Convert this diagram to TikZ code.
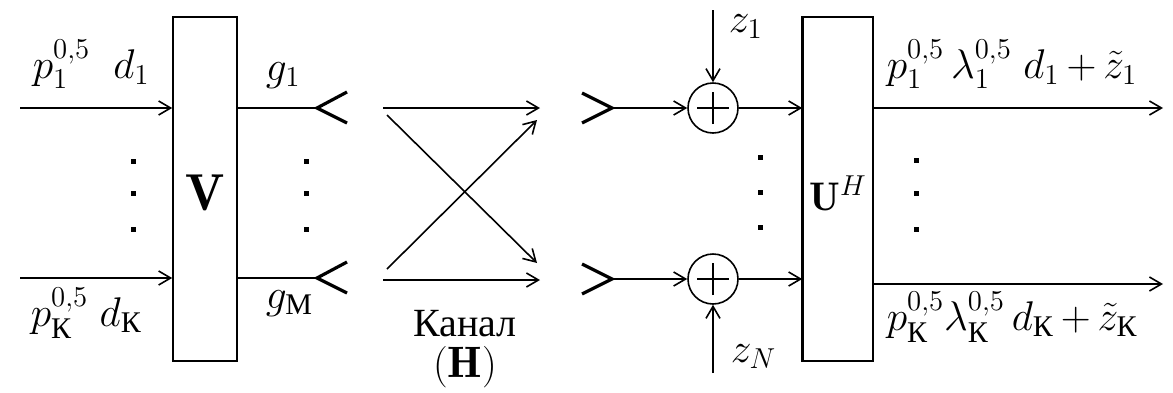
\documentclass[tikz,border=0pt]{standalone}
\usepackage{amsmath}
\usepackage{fontspec}
\newfontfamily\cyr{Liberation Serif}
\usetikzlibrary{arrows.meta}
\DeclareMathSizes{20}{20}{15}{11}
\DeclareMathSizes{22}{22}{16}{12}
\DeclareMathSizes{26}{26}{18}{13}
\newcommand{\CK}{\text{\cyr К}}
\newcommand{\CM}{\text{\cyr М}}
\begin{document}
\begin{tikzpicture}[x=0.5pt,y=-0.5pt,
  font=\fontsize{20}{22}\selectfont,
  line width=0.8pt,
  tip/.style={-{Straight Barb[length=6pt,width=7pt]}},
  blk/.style={draw,minimum width=32pt,minimum height=172pt,inner sep=0pt},
  sumnode/.style={draw,circle,minimum size=25pt,inner sep=0pt},
  chev/.style={line width=1.6pt,line join=miter},
  lbl/.style={anchor=base west,inner sep=0pt}]
\useasboundingbox (0,0) rectangle (1173,392);
% blocks
\node[blk] (V) at (205,189) {};
\node[font=\fontsize{26}{28}\selectfont] at (205,193) {$\mathbf{V}$};
\node[blk,minimum width=35pt] (U) at (838,189) {};
\draw[line width=1.6pt] (U.north west) -- (U.south west);
\node at (838,193) {$\mathbf{U}^H$};
% input coordinates
\coordinate (i1) at (20,108);
\coordinate (i2) at (20,278);
\draw[tip] (i1) -- (i1 -| V.west);
\draw[tip] (i2) -- (i2 -| V.west);
% V outputs and receive chevrons
\coordinate (t1) at (317,108);
\coordinate (t2) at (317,278);
\draw (t1 -| V.east) -- (t1);
\draw (t2 -| V.east) -- (t2);
\draw[chev] (347,92) -- (t1) -- (347,123);
\draw[chev] (347,262) -- (t2) -- (347,293);
% channel
\coordinate (a1) at (383,108); \coordinate (b1) at (540,108);
\coordinate (a2) at (383,280); \coordinate (b2) at (540,280);
\coordinate (d1s) at (387,115); \coordinate (d1e) at (537,263);
\coordinate (d2s) at (387,269); \coordinate (d2e) at (537,120);
\draw[tip] (a1) -- (b1);
\draw[tip] (a2) -- (b2);
\draw[tip] (d1s) -- (d1e);
\draw[tip] (d2s) -- (d2e);
% transmit chevrons
\coordinate (r1) at (612,108);
\coordinate (r2) at (612,279);
\draw[chev] (582,93) -- (r1) -- (582,123);
\draw[chev] (582,264) -- (r2) -- (582,294);
% adders
\node[sumnode] (s1) at (713,108) {};
\node[sumnode] (s2) at (713,279) {};
\foreach \s in {s1,s2}{
  \draw ([xshift=-8pt]\s.center) -- ([xshift=8pt]\s.center);
  \draw ([yshift=-8pt]\s.center) -- ([yshift=8pt]\s.center);
}
\draw[tip] (r1) -- (s1.west);
\draw[tip] (r2) -- (s2.west);
\coordinate (z1) at (713,10);
\coordinate (zN) at (713,373);
\draw[tip] (z1) -- (s1.north);
\draw[tip] (zN) -- (s2.south);
\draw[tip] (s1.east) -- (s1.east -| U.west);
\draw[tip] (s2.east) -- (s2.east -| U.west);
% U outputs
\coordinate (o1) at (1163,108);
\coordinate (o2) at (1163,284);
\draw[tip] (o1 -| U.east) -- (o1);
\draw[tip] (o2 -| U.east) -- (o2);
% dots
\foreach \x/\a/\b/\c in {133/161/193/229, 306/161/193/229, 760/157/192/227, 916/160/193/229}{
  \fill (\x-2.5,\a-2.5) rectangle (\x+2.5,\a+2.5);
  \fill (\x-2.5,\b-2.5) rectangle (\x+2.5,\b+2.5);
  \fill (\x-2.5,\c-2.5) rectangle (\x+2.5,\c+2.5);
}
% labels
\node[lbl] (l1) at (32,78) {$p_1^{0,5}\;\;d_1$};
\node[lbl] (l2) at (30,326) {$p_{\CK}^{0,5}\;d_{\CK}$};
\node[lbl] (l3) at (265,80) {$g_1$};
\node[lbl] (l4) at (265,308) {$g_{\CM}$};
\node[lbl] (l5) at (728,32) {$z_1$};
\node[lbl] (l6) at (730,362) {$z_{N}$};
\node[anchor=base,inner sep=0pt] (l7) at (465,336) {\cyr\fontsize{20}{22}\selectfont Канал};
\node[anchor=base,inner sep=0pt,font=\fontsize{22}{24}\selectfont] (l8) at (465,377) {$(\mathbf{H})$};
\node[lbl] (l9) at (886,78) {$p_1^{0,5}\,\lambda_1^{0,5}\;d_1\,{+}\,\tilde{z}_1$};
\node[lbl] (l10) at (886,330) {$p_{\CK}^{0,5}\lambda_{\CK}^{0,5}\,d_{\CK}\,{+}\,\tilde{z}_{\CK}$};
\end{tikzpicture}
\end{document}
